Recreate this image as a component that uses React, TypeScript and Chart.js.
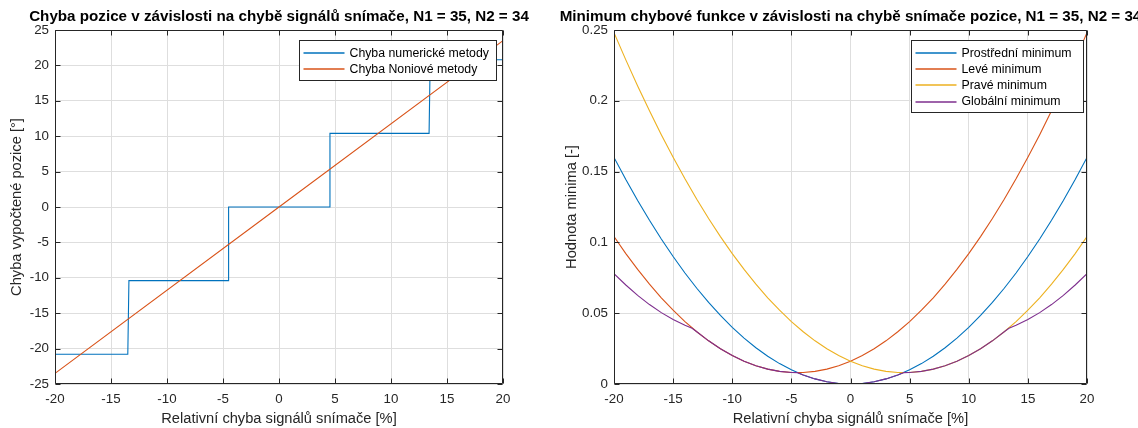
import React, { useEffect, useRef } from "react";
import { Chart, registerables } from "chart.js";

Chart.register(...registerables);

const FONT = "'Liberation Sans', Arial, Helvetica, sans-serif";
const AXIS_COLOR = "#262626";
const GRID_COLOR = "#dedede";
const BLUE = "#0072BD";
const ORANGE = "#D95319";
const YELLOW = "#EDB120";
const PURPLE = "#7E2F8E";

// ---------- Left chart ----------
const leftTitle = "Chyba pozice v závislosti na chybě signálů snímače, N1 = 35, N2 = 34";
const leftXLabel = "Relativní chyba signálů snímače [%]";
const leftYLabel = "Chyba vypočtené pozice [°]";
const numericLabel = "Chyba numerické metody";
const noniusLabel = "Chyba Noniové metody";
const numericX = [-20, -13.5, -13.4, -4.55, -4.5, 4.5, 4.55, 13.4, 13.5, 20];
const numericY = [-20.8, -20.8, -10.4, -10.4, 0, 0, 10.4, 10.4, 20.8, 20.8];
const noniusX = [-20, 0, 20];
const noniusY = [-23.5, 0, 23.5];
const xTicks = [-20, -15, -10, -5, 0, 5, 10, 15, 20];
const leftYTicks = [-25, -20, -15, -10, -5, 0, 5, 10, 15, 20, 25];

// ---------- Right chart ----------
const rightTitle = "Minimum chybové funkce v závislosti na chybě snímače pozice, N1 = 35, N2 = 34";
const rightXLabel = "Relativní chyba signálů snímače [%]";
const rightYLabel = "Hodnota minima [-]";
const middleLabel = "Prostřední minimum";
const leftMinLabel = "Levé minimum";
const rightMinLabel = "Pravé minimum";
const globalLabel = "Globální minimum";
const curveX = [-20, -19, -18, -17, -16, -15, -14, -13, -12, -11, -10, -9, -8, -7, -6, -5, -4, -3, -2, -1, 0, 1, 2, 3, 4, 5, 6, 7, 8, 9, 10, 11, 12, 13, 14, 15, 16, 17, 18, 19, 20];
const middleMin = [0.16, 0.1444, 0.1296, 0.1156, 0.1024, 0.09, 0.0784, 0.0676, 0.0576, 0.0484, 0.04, 0.0324, 0.0256, 0.0196, 0.0144, 0.01, 0.0064, 0.0036, 0.0016, 0.0004, 0, 0.0004, 0.0016, 0.0036, 0.0064, 0.01, 0.0144, 0.0196, 0.0256, 0.0324, 0.04, 0.0484, 0.0576, 0.0676, 0.0784, 0.09, 0.1024, 0.1156, 0.1296, 0.1444, 0.16];
const leftMin = [0.1041, 0.0921, 0.0809, 0.0705, 0.0609, 0.0521, 0.0441, 0.0369, 0.0305, 0.0249, 0.0201, 0.0161, 0.0129, 0.0105, 0.0089, 0.0081, 0.0081, 0.0089, 0.0105, 0.0129, 0.0161, 0.0201, 0.0249, 0.0305, 0.0369, 0.0441, 0.0521, 0.0609, 0.0705, 0.0809, 0.0921, 0.1041, 0.1169, 0.1305, 0.1449, 0.1601, 0.1761, 0.1929, 0.2105, 0.2289, 0.2481];
const rightMin = [0.2481, 0.2289, 0.2105, 0.1929, 0.1761, 0.1601, 0.1449, 0.1305, 0.1169, 0.1041, 0.0921, 0.0809, 0.0705, 0.0609, 0.0521, 0.0441, 0.0369, 0.0305, 0.0249, 0.0201, 0.0161, 0.0129, 0.0105, 0.0089, 0.0081, 0.0081, 0.0089, 0.0105, 0.0129, 0.0161, 0.0201, 0.0249, 0.0305, 0.0369, 0.0441, 0.0521, 0.0609, 0.0705, 0.0809, 0.0921, 0.1041];
const globalX = [-20, -19, -18, -17, -16, -15, -14, -13.4, -13, -12, -11, -10, -9, -8, -7, -6, -5, -4.5, -4, -3, -2, -1, 0, 1, 2, 3, 4, 4.5, 5, 6, 7, 8, 9, 10, 11, 12, 13, 13.4, 14, 15, 16, 17, 18, 19, 20];
const globalMin = [0.0779, 0.0699, 0.0626, 0.0561, 0.0504, 0.0455, 0.0415, 0.0394, 0.0369, 0.0305, 0.0249, 0.0201, 0.0161, 0.0129, 0.0105, 0.0089, 0.0081, 0.008, 0.0064, 0.0036, 0.0016, 0.0004, 0, 0.0004, 0.0016, 0.0036, 0.0064, 0.008, 0.0081, 0.0089, 0.0105, 0.0129, 0.0161, 0.0201, 0.0249, 0.0305, 0.0369, 0.0394, 0.0415, 0.0455, 0.0504, 0.0561, 0.0626, 0.0699, 0.0779];
const rightYTicks = [0, 0.05, 0.1, 0.15, 0.2, 0.25];
const rightYTickLabels = ["0", "0.05", "0.1", "0.15", "0.2", "0.25"];

const toPoints = (xs: number[], ys: number[]) => xs.map((x, i) => ({ x, y: ys[i] }));

const lineDs = (label: string, xs: number[], ys: number[], color: string, order: number) => ({
  label,
  data: toPoints(xs, ys),
  borderColor: color,
  backgroundColor: color,
  borderWidth: 1.1,
  pointRadius: 0,
  tension: 0,
  fill: false,
  order,
});

const px = (v: number) => Math.round(v) + 0.5;

const matlabPlugin = {
  id: "matlab",
  afterDatasetsDraw(chart: any, _args: any, opts: any) {
    const { ctx, chartArea, scales } = chart;
    const L = px(chartArea.left);
    const R = px(chartArea.right) - 1;
    const T = px(chartArea.top);
    const B = px(chartArea.bottom) - 1;
    ctx.save();
    ctx.strokeStyle = AXIS_COLOR;
    ctx.lineWidth = 1;
    ctx.beginPath();
    ctx.rect(L, T, R - L, B - T);
    const tick = 5;
    for (const t of scales.x.ticks) {
      const x = px(scales.x.getPixelForValue(t.value));
      ctx.moveTo(x, B);
      ctx.lineTo(x, B - tick);
      ctx.moveTo(x, T);
      ctx.lineTo(x, T + tick);
    }
    for (const t of scales.y.ticks) {
      const y = px(scales.y.getPixelForValue(t.value));
      ctx.moveTo(L, y);
      ctx.lineTo(L + tick, y);
      ctx.moveTo(R, y);
      ctx.lineTo(R - tick, y);
    }
    ctx.stroke();

    // legend
    const items = chart.data.datasets.map((d: any) => ({ label: d.label, color: d.borderColor }));
    ctx.font = `12.3px ${FONT}`;
    const textW = Math.max(...items.map((i: any) => ctx.measureText(i.label).width));
    const rowH = 16.3;
    const lineStart = 4;
    const lineLen = 41;
    const gap = 5;
    const boxW = Math.round(lineStart + lineLen + gap + textW + opts.legendPadRight);
    const boxH = Math.round(items.length * rowH + 7);
    const bx = px(R - opts.legendInsetRight - boxW);
    const by = px(T + opts.legendInsetTop);
    ctx.fillStyle = "#ffffff";
    ctx.fillRect(bx, by, boxW, boxH);
    ctx.strokeStyle = AXIS_COLOR;
    ctx.strokeRect(bx, by, boxW, boxH);
    ctx.textAlign = "left";
    ctx.textBaseline = "middle";
    items.forEach((it: any, i: number) => {
      const y = by + 4 + rowH * (i + 0.5);
      ctx.strokeStyle = it.color;
      ctx.lineWidth = 1.3;
      ctx.beginPath();
      ctx.moveTo(bx + lineStart, Math.round(y));
      ctx.lineTo(bx + lineStart + lineLen, Math.round(y));
      ctx.stroke();
      ctx.fillStyle = "#000000";
      ctx.fillText(it.label, bx + lineStart + lineLen + gap, y + 0.5);
    });
    ctx.restore();
  },
  afterDraw(chart: any, _args: any, opts: any) {
    const { ctx, chartArea } = chart;
    ctx.save();
    ctx.font = `bold 15.2px ${FONT}`;
    ctx.fillStyle = "#000000";
    ctx.textAlign = "center";
    ctx.textBaseline = "middle";
    ctx.fillText(opts.title, (chartArea.left + chartArea.right) / 2, opts.titleY);
    ctx.restore();
  },
};

function buildConfig(p: any): any {
  return {
    type: "line",
    data: { datasets: p.datasets },
    plugins: [matlabPlugin],
    options: {
      responsive: false,
      animation: false,
      devicePixelRatio: 1,
      layout: { padding: { top: 30, right: p.padRight, bottom: 0, left: 0 } },
      plugins: {
        legend: { display: false },
        tooltip: { enabled: false },
        title: { display: false },
        matlab: {
          title: p.title,
          titleY: 17,
          legendInsetRight: p.legendInsetRight,
          legendInsetTop: 9,
          legendPadRight: p.legendPadRight,
        },
      },
      scales: {
        x: {
          type: "linear",
          min: -20,
          max: 20,
          afterBuildTicks: (s: any) => {
            s.ticks = xTicks.map((v) => ({ value: v }));
          },
          afterFit: (s: any) => {
            s.height = 44;
          },
          grid: { color: GRID_COLOR, lineWidth: 1, drawTicks: false },
          border: { display: false },
          ticks: {
            autoSkip: false,
            maxRotation: 0,
            padding: 7,
            color: AXIS_COLOR,
            font: { family: FONT, size: 13.33 },
            callback: (v: any) => String(v),
          },
          title: {
            display: true,
            text: p.xLabel,
            color: AXIS_COLOR,
            font: { family: FONT, size: 14.67 },
            padding: { top: 0, bottom: 0 },
          },
        },
        y: {
          type: "linear",
          min: p.yMin,
          max: p.yMax,
          afterBuildTicks: (s: any) => {
            s.ticks = p.yTicks.map((v: number) => ({ value: v }));
          },
          afterFit: (s: any) => {
            s.width = p.yAxisWidth;
          },
          grid: { color: GRID_COLOR, lineWidth: 1, drawTicks: false },
          border: { display: false },
          ticks: {
            autoSkip: false,
            padding: 6,
            color: AXIS_COLOR,
            font: { family: FONT, size: 13.33 },
            callback: (_v: any, i: number) => p.yTickLabels[i],
          },
          title: {
            display: true,
            text: p.yLabel,
            color: AXIS_COLOR,
            font: { family: FONT, size: 14.67 },
            padding: { top: p.yTitlePad, bottom: 0 },
          },
        },
      },
    },
  };
}

function ChartCanvas({ width, height, config }: { width: number; height: number; config: any }) {
  const ref = useRef<HTMLCanvasElement>(null);
  useEffect(() => {
    const chart = new Chart(ref.current as HTMLCanvasElement, config);
    return () => chart.destroy();
  }, []);
  return <canvas ref={ref} width={width} height={height} style={{ width, height, display: "block" }} />;
}

export default function App() {
  const leftConfig = buildConfig({
    datasets: [
      lineDs(numericLabel, numericX, numericY, BLUE, 2),
      lineDs(noniusLabel, noniusX, noniusY, ORANGE, 1),
    ],
    title: leftTitle,
    xLabel: leftXLabel,
    yLabel: leftYLabel,
    yMin: -25,
    yMax: 25,
    yTicks: leftYTicks,
    yTickLabels: leftYTicks.map((v) => String(v)),
    padRight: 57,
    yAxisWidth: 55,
    yTitlePad: 8,
    legendInsetRight: 7,
    legendPadRight: 8,
  });
  const rightConfig = buildConfig({
    datasets: [
      lineDs(middleLabel, curveX, middleMin, BLUE, 4),
      lineDs(leftMinLabel, curveX, leftMin, ORANGE, 3),
      lineDs(rightMinLabel, curveX, rightMin, YELLOW, 2),
      lineDs(globalLabel, globalX, globalMin, PURPLE, 1),
    ],
    title: rightTitle,
    xLabel: rightXLabel,
    yLabel: rightYLabel,
    yMin: 0,
    yMax: 0.25,
    yTicks: rightYTicks,
    yTickLabels: rightYTickLabels,
    padRight: 51,
    yAxisWidth: 54,
    yTitlePad: 3,
    legendInsetRight: 4,
    legendPadRight: 12,
  });
  return (
    <div style={{ position: "fixed", left: 0, top: 0, width: 1138, height: 428, background: "#ffffff", overflow: "hidden" }}>
      <div style={{ position: "absolute", left: 0, top: 0 }}>
        <ChartCanvas width={560} height={428} config={leftConfig} />
      </div>
      <div style={{ position: "absolute", left: 560, top: 0 }}>
        <ChartCanvas width={578} height={428} config={rightConfig} />
      </div>
    </div>
  );
}
